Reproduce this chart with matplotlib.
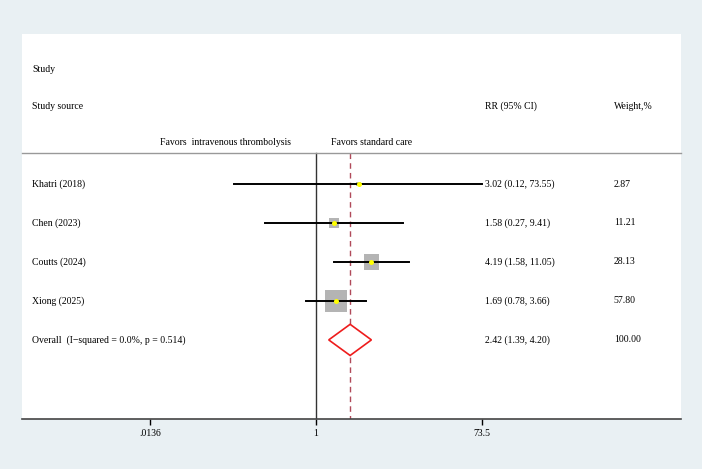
import numpy as np
import matplotlib
matplotlib.use('Agg')
import matplotlib.pyplot as plt
import matplotlib.transforms as mtransforms

plt.rcParams['font.family'] = ['Liberation Serif', 'DejaVu Serif']
plt.rcParams['font.size'] = 7.0

studies = ['Khatri (2018)', 'Chen (2023)', 'Coutts (2024)', 'Xiong (2025)']
rr = [3.02, 1.58, 4.19, 1.69]
lo = [0.12, 0.27, 1.58, 0.78]
hi = [73.55, 9.41, 11.05, 3.66]
weights = [2.87, 11.21, 28.13, 57.80]
overall_label = 'Overall  (I\u2212squared = 0.0%, p = 0.514)'
overall_rr, overall_lo, overall_hi = 2.42, 1.39, 4.20
overall_weight = 100.00
tick_vals = [0.0136, 1, 73.5]
tick_labels = ['.0136', '1', '73.5']

fig = plt.figure(figsize=(7.02, 4.69), dpi=100)
fig.patch.set_facecolor('#e9f0f3')
ax = fig.add_axes([22/702, 50/469, 659/702, 385/469])
ax.set_facecolor('white')

ax.set_xscale('log')
xmin, xmax = np.exp(-7.617), np.exp(9.456)
ax.set_xlim(xmin, xmax)
ax.set_ylim(7.03, -2.85)

rows = np.arange(1, len(studies) + 1)
ov_row = len(studies) + 1

# reference lines
ax.plot([1, 1], [0.2, 7.03], color='#333333', lw=1.0, zorder=1)
ax.plot([overall_rr, overall_rr], [0.2, 7.03], color='#b04a5a', lw=1.0,
        ls=(0, (4, 3)), zorder=1)
ax.plot([xmin, xmax], [0.2, 0.2], color='#999999', lw=1.0,
        zorder=1, clip_on=False)

# weight squares, CIs, point estimates
sizes = [4.36 * w for w in weights]
ax.scatter(rr, rows, s=sizes, marker='s', color='#b4b4b4', lw=0, zorder=2)
for y, l, h in zip(rows, lo, hi):
    ax.plot([l, h], [y, y], color='black', lw=1.4, zorder=3)
ax.scatter(rr, rows, s=13, marker='o', color='#ffff00', lw=0, zorder=4)

# overall diamond
dx = [overall_lo, overall_rr, overall_hi, overall_rr, overall_lo]
dy = [ov_row, ov_row - 0.4, ov_row, ov_row + 0.4, ov_row]
ax.fill(dx, dy, facecolor='white', edgecolor='#ee1c1c', lw=1.2, zorder=3)

# text columns
tr = mtransforms.blended_transform_factory(ax.transAxes, ax.transData)
x_lab, x_rr, x_w = 0.0152, 0.7026, 0.898
ax.text(x_lab, -1.95, 'Study', transform=tr, va='center')
ax.text(x_lab, -1.0, 'Study source', transform=tr, va='center')
ax.text(x_rr, -1.0, 'RR (95% CI)', transform=tr, va='center')
ax.text(x_w, -1.0, 'Weight,%', transform=tr, va='center')
ax.text(0.408, -0.07, 'Favors  intravenous thrombolysis', transform=tr,
        va='center', ha='right')
ax.text(0.469, -0.07, 'Favors standard care', transform=tr, va='center')

for y, name, r, l, h, w in zip(rows, studies, rr, lo, hi, weights):
    ax.text(x_lab, y, name, transform=tr, va='center')
    ax.text(x_rr, y, f'{r:.2f} ({l:.2f}, {h:.2f})', transform=tr, va='center')
    ax.text(x_w, y, f'{w:.2f}', transform=tr, va='center')
ax.text(x_lab, ov_row, overall_label, transform=tr, va='center')
ax.text(x_rr, ov_row, f'{overall_rr:.2f} ({overall_lo:.2f}, {overall_hi:.2f})',
        transform=tr, va='center')
ax.text(x_w, ov_row, f'{overall_weight:.2f}', transform=tr, va='center')

# axis styling
for s in ['top', 'left', 'right']:
    ax.spines[s].set_visible(False)
ax.spines['bottom'].set_color('#444444')
ax.spines['bottom'].set_linewidth(1.2)
ax.set_yticks([])
ax.set_xticks(tick_vals)
ax.set_xticklabels(tick_labels)
ax.xaxis.set_minor_locator(matplotlib.ticker.NullLocator())
ax.tick_params(axis='x', direction='out', length=4, width=1, pad=3,
               labelsize=7.0)

fig.savefig('out.png', dpi=100, facecolor=fig.get_facecolor())
